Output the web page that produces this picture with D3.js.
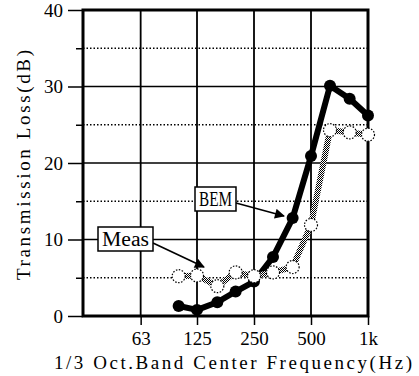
<!DOCTYPE html>
<html><head><meta charset="utf-8">
<script src="https://cdn.jsdelivr.net/npm/d3@7/dist/d3.min.js"></script>
<style>body{margin:0;background:#fff}svg{display:block}</style>
</head><body>
<svg id="c" width="419" height="376"></svg>
<script>
const bands = [100,125,160,200,250,315,400,500,630,800,1000];
const bemValues = [1.3,0.8,1.8,3.2,4.5,7.7,12.8,20.9,30.1,28.4,26.2];
const measValues = [5.2,5.3,3.9,5.7,5.2,5.7,6.4,11.9,24.3,24.0,23.7];
const xTicks = [63,125,250,500,1000];
const xTickLabels = ["63","125","250","500","1k"];
const yMajor = [0,10,20,30,40];
const yMinor = [5,15,25,35];

const svg = d3.select("#c");
const L=83,R=368,T=10,B=316;
const x = d3.scaleLog().base(2).domain([31.25,1000]).range([L,R]);
const y = d3.scaleLinear().domain([0,40]).range([B,T]);
const font = "'Liberation Serif', 'DejaVu Serif', serif";

const defs = svg.append("defs");
const pat = defs.append("pattern").attr("id","hatch").attr("patternUnits","userSpaceOnUse")
  .attr("width",2).attr("height",2);
pat.append("rect").attr("width",2).attr("height",2).attr("fill","#fff");
pat.append("rect").attr("width",1).attr("height",1).attr("fill","#000");
pat.append("rect").attr("x",1).attr("y",1).attr("width",1).attr("height",1).attr("fill","#000");
const mk = defs.append("marker").attr("id","arr").attr("viewBox","0 0 10 10")
  .attr("refX",9).attr("refY",5).attr("markerWidth",11).attr("markerHeight",10)
  .attr("markerUnits","userSpaceOnUse").attr("orient","auto");
mk.append("path").attr("d","M0,0L10,5L0,10Z").attr("fill","#000");

// grid
svg.append("g").selectAll("line").data(yMinor).join("line")
  .attr("x1",L).attr("x2",R).attr("y1",d=>y(d)).attr("y2",d=>y(d))
  .attr("stroke","#000").attr("stroke-width",1.3).attr("stroke-dasharray","1.5,2");
svg.append("g").selectAll("line").data(yMajor.filter(d=>d>0&&d<40)).join("line")
  .attr("x1",L).attr("x2",R).attr("y1",d=>y(d)).attr("y2",d=>y(d))
  .attr("stroke","#000").attr("stroke-width",1.5);
svg.append("g").selectAll("line").data(xTicks.filter(d=>d<1000)).join("line")
  .attr("x1",d=>x(d)).attr("x2",d=>x(d)).attr("y1",T).attr("y2",B)
  .attr("stroke","#000").attr("stroke-width",1.8);

// axes
const yAxis = svg.append("g").attr("transform",`translate(${L},0)`)
  .call(d3.axisLeft(y).tickValues(yMajor).tickSize(15).tickPadding(5).tickFormat(d3.format("d")));
svg.append("g").attr("transform",`translate(${L},0)`)
  .call(d3.axisLeft(y).tickValues(yMinor).tickSize(7).tickFormat(""))
  .call(g=>g.select(".domain").remove())
  .call(g=>g.selectAll(".tick line").attr("stroke","#000").attr("stroke-width",1.5));
const xAxis = svg.append("g").attr("transform",`translate(0,${B})`)
  .call(d3.axisBottom(x).tickValues(xTicks).tickSize(9).tickPadding(7).tickFormat((d,i)=>xTickLabels[i]));
[yAxis,xAxis].forEach(g=>{
  g.select(".domain").remove();
  g.selectAll(".tick line").attr("stroke","#000").attr("stroke-width",1.5);
  g.selectAll("text").attr("font-family",font).attr("font-size",19).attr("fill","#000");
});
xAxis.selectAll("text").attr("dy","0.7em");

// frame
svg.append("rect").attr("x",L).attr("y",T).attr("width",R-L).attr("height",B-T)
  .attr("fill","none").attr("stroke","#000").attr("stroke-width",3);

// series
const bem = bands.map((f,i)=>[f,bemValues[i]]);
const meas = bands.map((f,i)=>[f,measValues[i]]);
const line = d3.line().x(d=>x(d[0])).y(d=>y(d[1]));
svg.append("path").datum(bem).attr("d",line).attr("fill","none")
  .attr("stroke","#000").attr("stroke-width",6).attr("stroke-linejoin","round");
svg.append("g").selectAll("circle").data(bem).join("circle")
  .attr("cx",d=>x(d[0])).attr("cy",d=>y(d[1])).attr("r",6).attr("fill","#000");
svg.append("path").datum(meas).attr("d",line).attr("fill","none")
  .attr("stroke","url(#hatch)").attr("stroke-width",6);
svg.append("g").selectAll("circle").data(meas).join("circle")
  .attr("cx",d=>x(d[0])).attr("cy",d=>y(d[1])).attr("r",6.5).attr("fill","#fff")
  .attr("stroke","#000").attr("stroke-width",1.2).attr("stroke-dasharray","1.5,1.5");

// labels
function label(txt,bx,by,bw,bh,ax1,ay1,ax2,ay2){
  svg.append("line").attr("x1",ax1).attr("y1",ay1).attr("x2",ax2).attr("y2",ay2)
    .attr("stroke","#000").attr("stroke-width",1.5).attr("marker-end","url(#arr)");
  svg.append("rect").attr("x",bx).attr("y",by).attr("width",bw).attr("height",bh)
    .attr("fill","#fff").attr("stroke","#000").attr("stroke-width",1.5);
  svg.append("text").attr("x",bx+bw/2).attr("y",by+bh/2).attr("dy","0.35em")
    .attr("text-anchor","middle").attr("font-family",font).attr("font-size",20)
    .attr("textLength",bw-8).attr("lengthAdjust","spacingAndGlyphs").text(txt);
}
label("BEM",195,187,41,24,236,203,284,216);
label("Meas",98,227,55,24,153,243,204,267);

// titles
svg.append("text").attr("x",233).attr("y",369).attr("text-anchor","middle")
  .attr("font-family",font).attr("font-size",19)
  .attr("textLength",358).attr("lengthAdjust","spacing")
  .text("1/3 Oct.Band Center Frequency(Hz)");
svg.append("text").attr("transform","translate(30,165) rotate(-90)").attr("text-anchor","middle")
  .attr("font-family",font).attr("font-size",19)
  .attr("textLength",230).attr("lengthAdjust","spacing")
  .text("Transmission Loss(dB)");
</script>
</body></html>
